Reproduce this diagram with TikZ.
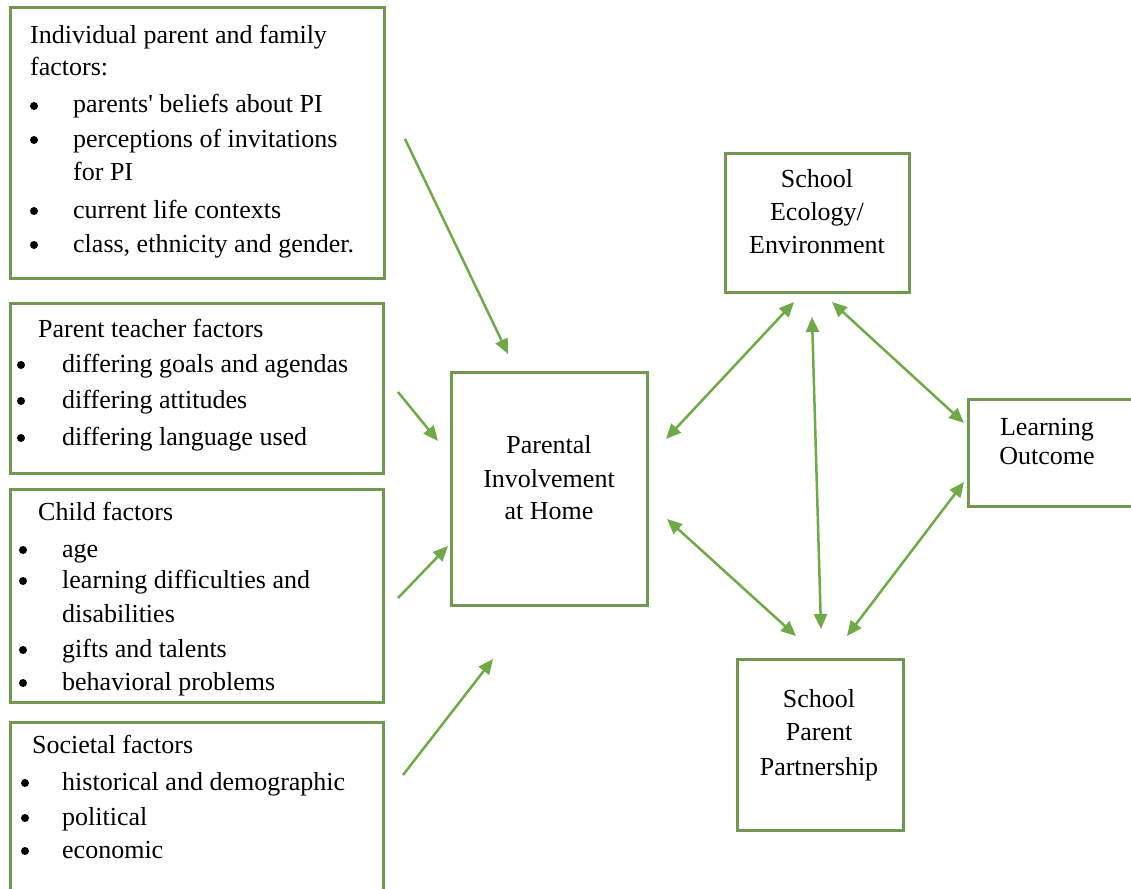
\documentclass[tikz,border=0pt]{standalone}
\usepackage{fontspec}
\setmainfont{Liberation Serif}
\usetikzlibrary{arrows.meta}
\definecolor{boxgreen}{RGB}{112,152,78}
\definecolor{arrgreen}{RGB}{112,170,72}
\tikzset{
  frame/.style={draw=boxgreen, line width=3pt, inner sep=0pt, fill=white},
  txt/.style={anchor=base west, inner sep=0pt, font=\fontsize{26}{30}\selectfont, text=black},
  ctxt/.style={anchor=base, inner sep=0pt, font=\fontsize{26}{30}\selectfont, text=black},
  bul/.style={circle, fill=black, inner sep=0pt, minimum size=8pt, yshift=7pt},
  oneway/.style={draw=arrgreen, line width=2.5pt, -{Triangle[length=15pt,width=13pt]}},
  twoway/.style={draw=arrgreen, line width=2.5pt, {Triangle[length=15pt,width=13pt]}-{Triangle[length=15pt,width=13pt]}}
}
\begin{document}
\begin{tikzpicture}[x=1pt,y=-1pt]
\useasboundingbox (0,0) rectangle (1131,888);
\clip (0,0) rectangle (1131,888);
\fill[white] (0,0) rectangle (1131,888);

% boxes
\node[frame, minimum width=374pt, minimum height=270pt] (indiv) at (197,143) {};
\node[frame, minimum width=373pt, minimum height=170pt] (teach) at (196.5,388) {};
\node[frame, minimum width=373pt, minimum height=213pt] (child) at (196.5,595.5) {};
\node[frame, minimum width=373pt, minimum height=190pt] (soc) at (196.5,817) {};
\node[frame, minimum width=196pt, minimum height=233pt] (home) at (549,488.5) {};
\node[frame, minimum width=184pt, minimum height=139pt] (eco) at (817,222.5) {};
\node[frame, minimum width=166pt, minimum height=107pt] (learn) at (1051,452.5) {};
\node[frame, minimum width=166pt, minimum height=171pt] (part) at (820,744.5) {};

% box 1 text
\node[txt] (i0) at (30,44) {Individual parent and family};
\node[txt] (i1) at (30,76) {factors:};
\node[bul] (ib1) at (34,113) {};
\node[txt] (i2) at (73,113) {parents\textquotesingle{} beliefs about PI};
\node[bul] (ib2) at (34,147) {};
\node[txt] (i3) at (73,147) {perceptions of invitations};
\node[txt] (i4) at (73,180) {for PI};
\node[bul] (ib3) at (34,218) {};
\node[txt] (i5) at (73,218) {current life contexts};
\node[bul] (ib4) at (34,252) {};
\node[txt] (i6) at (73,252) {class, ethnicity and gender.};

% box 2 text
\node[txt] (t0) at (38,337) {Parent teacher factors};
\node[bul] (tb1) at (21,372) {};
\node[txt] (t1) at (62,372) {differing goals and agendas};
\node[bul] (tb2) at (21,408) {};
\node[txt] (t2) at (62,408) {differing attitudes};
\node[bul] (tb3) at (21,445) {};
\node[txt] (t3) at (62,445) {differing language used};

% box 3 text
\node[txt] (c0) at (38,520) {Child factors};
\node[bul] (cb1) at (23,557) {};
\node[txt] (c1) at (62,557) {age};
\node[bul] (cb2) at (23,588) {};
\node[txt] (c2) at (62,588) {learning difficulties and};
\node[txt] (c3) at (62,622) {disabilities};
\node[bul] (cb3) at (23,657) {};
\node[txt] (c4) at (62,657) {gifts and talents};
\node[bul] (cb4) at (23,690) {};
\node[txt] (c5) at (62,690) {behavioral problems};

% box 4 text
\node[txt] (s0) at (32,753) {Societal factors};
\node[bul] (sb1) at (25,790) {};
\node[txt] (s1) at (62,790) {historical and demographic};
\node[bul] (sb2) at (25,825) {};
\node[txt] (s2) at (62,825) {political};
\node[bul] (sb3) at (25,858) {};
\node[txt] (s3) at (62,858) {economic};

% centre boxes text
\node[ctxt] (h0) at (549,453) {Parental};
\node[ctxt] (h1) at (549,487) {Involvement};
\node[ctxt] (h2) at (549,519) {at Home};
\node[ctxt] (e0) at (817,187) {School};
\node[ctxt] (e1) at (817,220) {Ecology/};
\node[ctxt] (e2) at (817,253) {Environment};
\node[ctxt] (o0) at (1047,435) {Learning};
\node[ctxt] (o1) at (1047,464) {Outcome};
\node[ctxt] (p0) at (819,707) {School};
\node[ctxt] (p1) at (819,740) {Parent};
\node[ctxt] (p2) at (819,775) {Partnership};

% arrow end points
\coordinate (a1s) at (405,139); \coordinate (a1e) at (508,354);
\coordinate (a2s) at (398,392); \coordinate (a2e) at (438,441);
\coordinate (a3s) at (398,598); \coordinate (a3e) at (448,546);
\coordinate (a4s) at (403,775); \coordinate (a4e) at (493,659);
\coordinate (d1a) at (794,302); \coordinate (d1b) at (666,439);
\coordinate (d2a) at (832,302); \coordinate (d2b) at (964,423);
\coordinate (d3a) at (812,317); \coordinate (d3b) at (821,629);
\coordinate (d4a) at (667,519); \coordinate (d4b) at (796,636);
\coordinate (d5a) at (847,636); \coordinate (d5b) at (964,482);

\draw[oneway] (a1s) -- (a1e);
\draw[oneway] (a2s) -- (a2e);
\draw[oneway] (a3s) -- (a3e);
\draw[oneway] (a4s) -- (a4e);
\draw[twoway] (d1a) -- (d1b);
\draw[twoway] (d2a) -- (d2b);
\draw[twoway] (d3a) -- (d3b);
\draw[twoway] (d4a) -- (d4b);
\draw[twoway] (d5a) -- (d5b);
\end{tikzpicture}
\end{document}
